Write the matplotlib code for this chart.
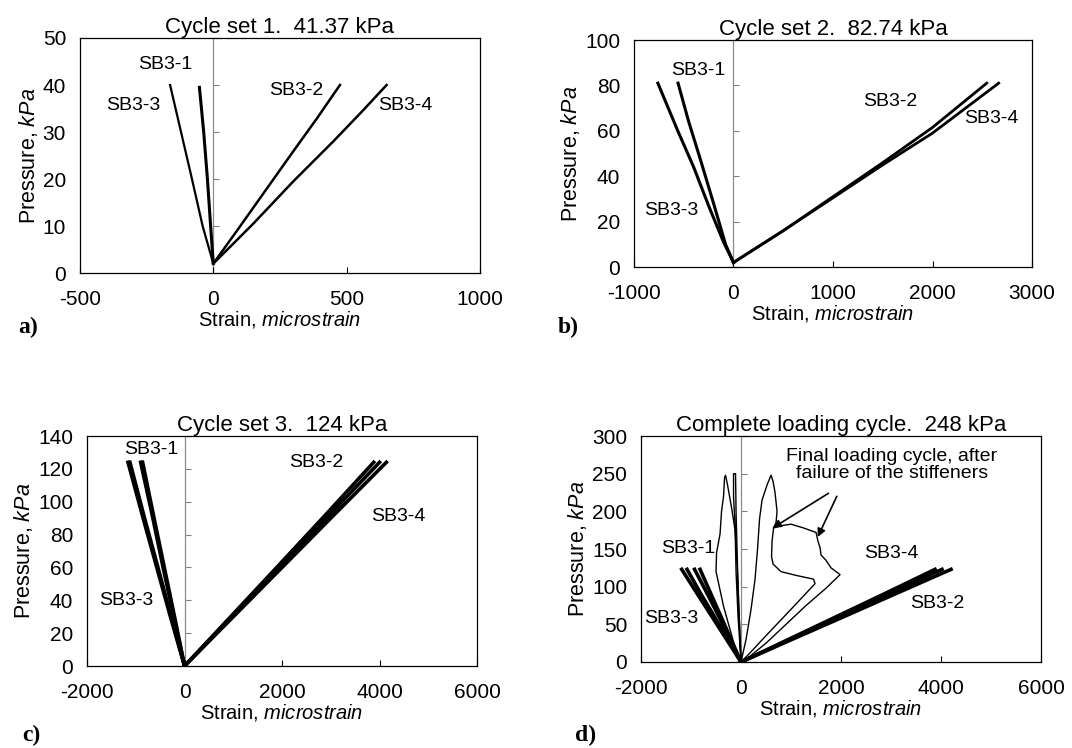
import matplotlib
matplotlib.use("Agg")
import matplotlib.pyplot as plt

plt.rcParams['font.family'] = ['Liberation Sans', 'DejaVu Sans']
plt.rcParams['axes.unicode_minus'] = False
plt.rcParams['mathtext.fontset'] = 'custom'
plt.rcParams['mathtext.rm'] = 'Liberation Sans'
plt.rcParams['mathtext.it'] = 'Liberation Sans:italic'

# ---- panel a: cycle set 1 (41.37 kPa)
a_sb3_1_x = [0, -10, -22, -36, -52]
a_sb3_1_y = [2, 10, 20, 30, 39.5]
a_sb3_3_x = [0, -40, -80, -121, -162]
a_sb3_3_y = [2, 10, 20, 30, 40]
a_sb3_2_x = [0, 95, 195, 295, 390, 475]
a_sb3_2_y = [2, 9.5, 17.5, 25.5, 33, 40]
a_sb3_4_x = [0, 150, 300, 450, 560, 650]
a_sb3_4_y = [2, 10.5, 19.5, 28, 34.5, 40]

# ---- panel b: cycle set 2 (82.74 kPa)
b_sb3_1_x = [0, -80, -200, -330, -450, -557]
b_sb3_1_y = [2, 10, 28, 47, 64, 81]
b_sb3_3_x = [0, -100, -250, -400, -560, -760]
b_sb3_3_y = [2, 11, 27, 44, 60, 81]
b_sb3_2_x = [0, 500, 1000, 1500, 2000, 2545]
b_sb3_2_y = [2, 16, 31, 46, 61.5, 81]
b_sb3_4_x = [0, 500, 1000, 1500, 2000, 2665]
b_sb3_4_y = [2, 16, 30.5, 45, 59, 81]

# ---- panel c: cycle set 3 (124 kPa), several cycles per gauge
c_y = [0, 30, 60, 90, 124]
c_sb3_3 = [[0, -290, -570, -850, -1160], [0, -275, -545, -820, -1120]]
c_sb3_1 = [[0, -220, -440, -650, -900], [0, -205, -415, -625, -860]]
c_sb3_2 = [[0, 1000, 2000, 3000, 4140], [0, 970, 1940, 2910, 4000],
           [0, 945, 1890, 2830, 3880]]

# ---- panel d: complete loading cycle (248 kPa)
d_y = [0, 30, 60, 90, 123]
d_sb3_3 = [[0, -290, -580, -870, -1187], [0, -265, -530, -800, -1080]]
d_sb3_1 = [[0, -220, -440, -670, -930], [0, -200, -400, -600, -820]]
d_sb3_2 = [[0, 1020, 2050, 3070, 4200], [0, 980, 1960, 2940, 4020],
           [0, 950, 1900, 2850, 3880]]
# final loading cycle, after failure of the stiffeners
d_f1_x = [0, -90, -350, -500, -490, -420, -390, -350, -330, -310, -270, -190, -120, -90, -60, -30, 0]
d_f1_y = [0, 12, 74, 120, 145, 170, 200, 220, 245, 248, 235, 205, 175, 145, 100, 50, 0]
d_f3_x = [0, -60, -100, -120, -150, -150, -110, -100, -80, -50, 0]
d_f3_y = [0, 60, 120, 180, 220, 250, 250, 200, 150, 80, 0]
d_f4a_x = [0, 100, 200, 280, 330, 370, 420, 520, 600, 640, 680, 720, 700, 650, 620, 610, 640, 800, 1100, 1450, 1480, 1000, 500, 150, 0]
d_f4a_y = [0, 30, 70, 110, 150, 190, 215, 235, 248, 240, 225, 200, 185, 178, 160, 140, 130, 120, 115, 110, 104, 70, 35, 10, 0]
d_f4b_x = [650, 800, 1000, 1250, 1500, 1540, 1580, 1600, 1700, 1800, 1980, 1700, 1300, 900, 500, 150, 0]
d_f4b_y = [178, 181, 183, 178, 172, 160, 152, 142, 135, 125, 116, 98, 75, 50, 25, 6, 0]


def style(ax, xlim, ylim, xticks, yticks, title):
    ax.set_xlim(xlim)
    ax.set_ylim(ylim)
    ax.set_xticks(xticks)
    ax.set_yticks(yticks)
    ax.tick_params(axis='x', direction='in', length=4, labelsize=15, pad=12)
    ax.tick_params(axis='y', length=0, labelsize=15, pad=10)
    for s in ax.spines.values():
        s.set_linewidth(0.9)
    frac = (0 - xlim[0]) / (xlim[1] - xlim[0])
    sec = ax.secondary_yaxis(frac)
    sec.set_yticks(yticks)
    sec.tick_params(direction='in', length=4, labelleft=False, color='0.5')
    sec.spines['left'].set_color('0.55')
    sec.spines['left'].set_linewidth(0.9)
    ax.set_title(title, fontsize=16, pad=3)
    ax.set_xlabel('Strain, $\\it{microstrain}$', fontsize=14.5, labelpad=0)
    ax.set_ylabel('Pressure, $\\it{kPa}$', fontsize=15.5, labelpad=2)


fig = plt.figure(figsize=(10.72, 7.48), dpi=100)
ax_a = fig.add_axes([0.0746, 0.635, 0.3731, 0.3142])
ax_b = fig.add_axes([0.5914, 0.643, 0.3713, 0.3035])
ax_c = fig.add_axes([0.0812, 0.1096, 0.3638, 0.3075])
ax_d = fig.add_axes([0.598, 0.115, 0.3731, 0.302])

lab = dict(fontsize=14, ha='center', va='center')

# a
ax_a.plot(a_sb3_1_x, a_sb3_1_y, color='k', lw=2.2)
ax_a.plot(a_sb3_3_x, a_sb3_3_y, color='k', lw=1.6)
ax_a.plot(a_sb3_2_x, a_sb3_2_y, color='k', lw=1.8)
ax_a.plot(a_sb3_4_x, a_sb3_4_y, color='k', lw=1.8)
style(ax_a, (-500, 1000), (0, 50), [-500, 0, 500, 1000], range(0, 51, 10),
      'Cycle set 1.  41.37 kPa')
ax_a.text(-179, 44.4, 'SB3-1', **lab)
ax_a.text(-300, 35.7, 'SB3-3', **lab)
ax_a.text(310, 38.9, 'SB3-2', **lab)
ax_a.text(719, 35.6, 'SB3-4', **lab)

# b
ax_b.plot(b_sb3_1_x, b_sb3_1_y, color='k', lw=2.2)
ax_b.plot(b_sb3_3_x, b_sb3_3_y, color='k', lw=2.2)
ax_b.plot(b_sb3_2_x, b_sb3_2_y, color='k', lw=2.0)
ax_b.plot(b_sb3_4_x, b_sb3_4_y, color='k', lw=2.0)
style(ax_b, (-1000, 3000), (0, 100), [-1000, 0, 1000, 2000, 3000], range(0, 101, 20),
      'Cycle set 2.  82.74 kPa')
ax_b.text(-356, 86.5, 'SB3-1', **lab)
ax_b.text(-624, 25, 'SB3-3', **lab)
ax_b.text(1574, 72.8, 'SB3-2', **lab)
ax_b.text(2587, 65.4, 'SB3-4', **lab)

# c
for xs in c_sb3_3 + c_sb3_1 + c_sb3_2:
    ax_c.plot(xs, c_y, color='k', lw=2.6)
style(ax_c, (-2000, 6000), (0, 140), [-2000, 0, 2000, 4000, 6000], range(0, 141, 20),
      'Cycle set 3.  124 kPa')
ax_c.text(-680, 132, 'SB3-1', **lab)
ax_c.text(-1193, 40, 'SB3-3', **lab)
ax_c.text(2704, 123.8, 'SB3-2', **lab)
ax_c.text(4380, 90.8, 'SB3-4', **lab)

# d
for xs in d_sb3_3 + d_sb3_1 + d_sb3_2:
    ax_d.plot(xs, d_y, color='k', lw=2.6)
for xs, ys in [(d_f1_x, d_f1_y), (d_f3_x, d_f3_y), (d_f4a_x, d_f4a_y), (d_f4b_x, d_f4b_y)]:
    ax_d.plot(xs, ys, color='k', lw=1.0)
style(ax_d, (-2000, 6000), (0, 300), [-2000, 0, 2000, 4000, 6000], range(0, 301, 50),
      'Complete loading cycle.  248 kPa')
ax_d.text(-1054, 151, 'SB3-1', **lab)
ax_d.text(-1388, 58, 'SB3-3', **lab)
ax_d.text(3015, 144.5, 'SB3-4', **lab)
ax_d.text(3916, 78, 'SB3-2', **lab)
ax_d.text(3015, 262, 'Final loading cycle, after\nfailure of the stiffeners',
          fontsize=14, ha='center', va='center', linespacing=1.0)
arrow = dict(arrowstyle='-|>', color='k', lw=1.2, mutation_scale=12, shrinkA=0, shrinkB=0)
ax_d.annotate('', xy=(634, 178), xytext=(1748, 224), arrowprops=arrow)
ax_d.annotate('', xy=(1534, 166), xytext=(1915, 220), arrowprops=arrow)

# panel letters
pl = dict(fontsize=17, fontweight='bold', family='Liberation Serif', ha='left', va='center')
fig.text(18 / 1072, 1 - 327 / 748, 'a)', **pl)
fig.text(558 / 1072, 1 - 327 / 748, 'b)', **pl)
fig.text(22 / 1072, 1 - 735 / 748, 'c)', **pl)
fig.text(575 / 1072, 1 - 735 / 748, 'd)', **pl)

fig.savefig('out.png', dpi=100)
